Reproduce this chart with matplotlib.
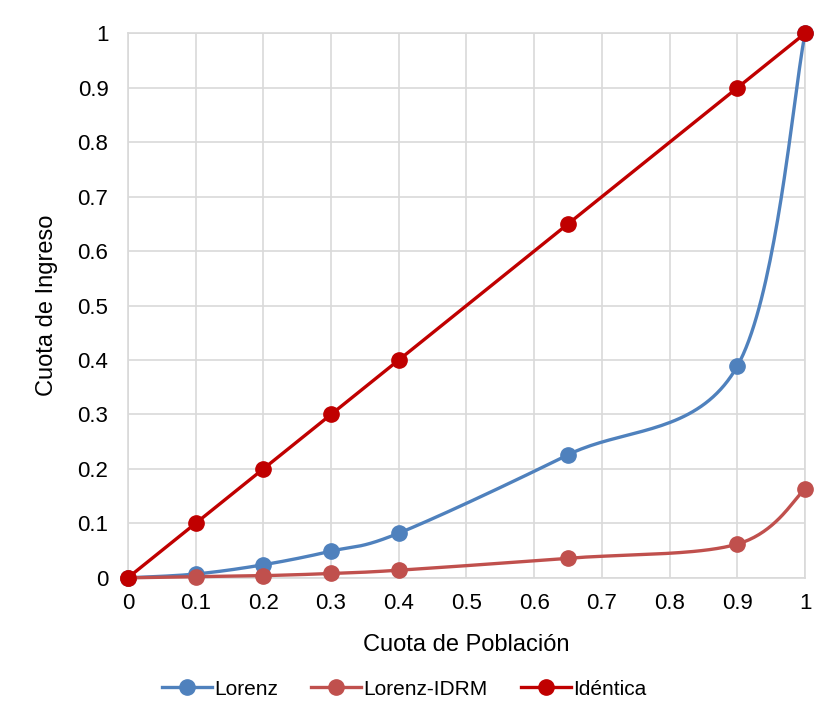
import numpy as np
import matplotlib
matplotlib.use("Agg")
import matplotlib.pyplot as plt
from matplotlib.lines import Line2D

plt.rcParams["font.family"] = ["Liberation Sans", "DejaVu Sans"]

# data
poblacion = [0, 0.1, 0.2, 0.3, 0.4, 0.65, 0.9, 1.0]
lorenz = [0, 0.007, 0.024, 0.049, 0.082, 0.226, 0.389, 1.0]
lorenz_idrm = [0, 0.002, 0.004, 0.008, 0.014, 0.036, 0.062, 0.163]
identica = [0, 0.1, 0.2, 0.3, 0.4, 0.65, 0.9, 1.0]

C_LOR = "#4f81bd"
C_IDRM = "#c0504d"
C_IDE = "#c00000"


def smooth(xs, ys, n=40):
    # Excel-like smoothed line: cubic Bezier with Catmull-Rom control points
    xs = np.asarray(xs, float); ys = np.asarray(ys, float)
    P = np.column_stack([xs, ys])
    P = np.vstack([P[0], P, P[-1]])
    out = []
    t = np.linspace(0, 1, n)[:, None]
    for i in range(1, len(P) - 2):
        p0, p1, p2, p3 = P[i - 1], P[i], P[i + 1], P[i + 2]
        c1 = p1 + (p2 - p0) / 6
        c2 = p2 - (p3 - p1) / 6
        seg = ((1 - t) ** 3) * p1 + 3 * ((1 - t) ** 2) * t * c1 \
            + 3 * (1 - t) * t ** 2 * c2 + t ** 3 * p2
        out.append(seg if i == 1 else seg[1:])
    out = np.vstack(out)
    return out[:, 0], out[:, 1]


fig = plt.figure(figsize=(8.3, 7.09), dpi=100)
ax = fig.add_axes([0.154, 0.185, 0.816, 0.768])

lw, ms = 2.4, 11
for ys, c in [(lorenz, C_LOR), (lorenz_idrm, C_IDRM)]:
    sx, sy = smooth(poblacion, ys)
    ax.plot(sx, sy, color=c, lw=lw, zorder=3, clip_on=False)
    ax.plot(poblacion, ys, "o", color=c, ms=ms, zorder=4, clip_on=False)
ax.plot(poblacion, identica, "-o", color=C_IDE, lw=lw, ms=ms, zorder=5,
        clip_on=False)

ax.set_xlim(0, 1); ax.set_ylim(0, 1)
ticks = np.round(np.arange(0, 1.01, 0.1), 1)
labels = ["0"] + [f"{t:g}" for t in ticks[1:-1]] + ["1"]
ax.set_xticks(ticks); ax.set_xticklabels(labels)
ax.set_yticks(ticks); ax.set_yticklabels(labels)
ax.tick_params(labelsize=16, length=0)
ax.tick_params(axis="x", pad=11)
ax.tick_params(axis="y", pad=14)
ax.grid(color="#d9d9d9", lw=1.2)
ax.set_axisbelow(True)
for s in ax.spines.values():
    s.set_visible(False)
for v in (0, 1):
    ax.axvline(v, color="#d9d9d9", lw=1.2, zorder=0.5, clip_on=False)
    ax.axhline(v, color="#d9d9d9", lw=1.2, zorder=0.5, clip_on=False)

ax.set_xlabel("Cuota de Población", fontsize=17, labelpad=14)
ax.set_ylabel("Cuota de Ingreso", fontsize=17, labelpad=14)

handles = [Line2D([], [], color=c, lw=lw, marker="o", ms=ms)
           for c in (C_LOR, C_IDRM, C_IDE)]
fig.legend(handles, ["Lorenz", "Lorenz-IDRM", "Idéntica"],
           loc="center", bbox_to_anchor=(0.487, 0.028), ncol=3,
           frameon=False, fontsize=15, handlelength=2.4,
           handletextpad=0.1, columnspacing=1.6)

fig.savefig("out.png", dpi=100)
